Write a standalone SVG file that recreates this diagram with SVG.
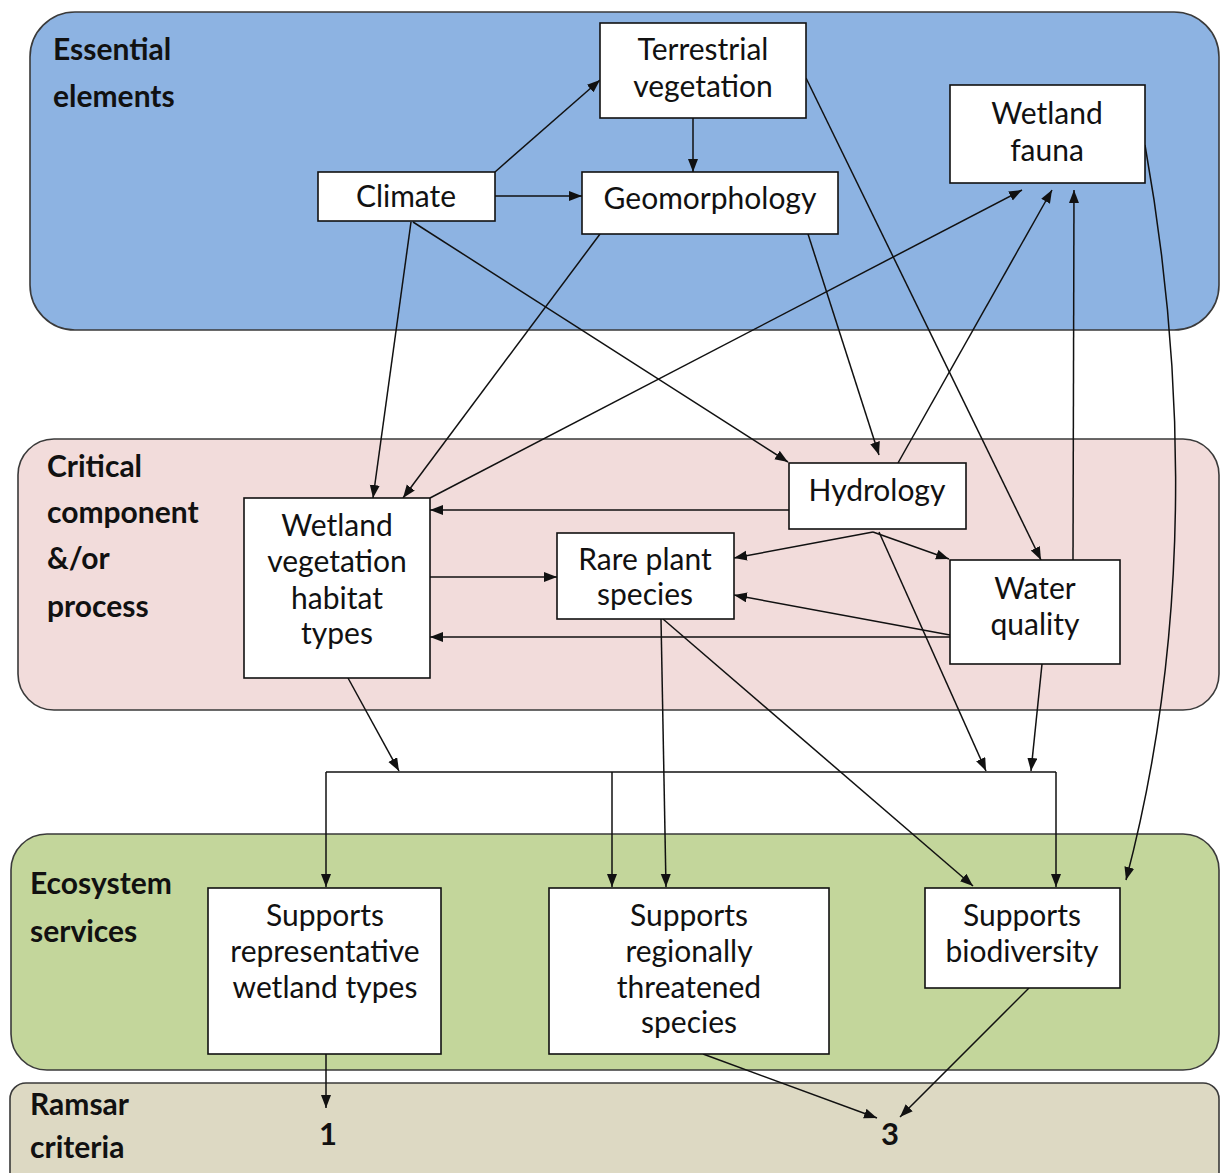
<svg xmlns="http://www.w3.org/2000/svg" width="1221" height="1173" viewBox="0 0 1221 1173">
<style>
.band{stroke:#3a3a3a;stroke-width:1.6}
.box{fill:#fff;stroke:#111;stroke-width:1.6}
.lbl{font-family:Lato,"Open Sans","Liberation Sans",sans-serif;font-weight:bold;font-size:30px;fill:#111}
.t{font-family:Lato,"Open Sans","Liberation Sans",sans-serif;font-size:30px;fill:#111;text-anchor:middle}
.num{font-family:Lato,"Liberation Sans",sans-serif;font-weight:bold;font-size:31px;fill:#111;text-anchor:middle}
.c{fill:none;stroke:#111;stroke-width:1.5}
.a{marker-end:url(#ah)}
</style>
<defs>
<marker id="ah" markerUnits="userSpaceOnUse" markerWidth="14" markerHeight="11" refX="13" refY="5" orient="auto">
<path d="M0,0 L13,5 L0,10 z" fill="#111"/>
</marker>
</defs>
<rect width="1221" height="1173" fill="#fff"/>
<g id="band-essential">
<rect class="band" x="30" y="12" width="1189" height="318" rx="45" ry="45" fill="#8db3e2"/>
<text class="lbl" x="53" y="60">Essential</text>
<text class="lbl" x="53" y="107">elements</text>
</g>
<g id="band-critical">
<rect class="band" x="18" y="439" width="1201" height="271" rx="36" ry="36" fill="#f2dcdb"/>
<text class="lbl" x="47" y="477">Critical</text>
<text class="lbl" x="47" y="523">component</text>
<text class="lbl" x="47" y="569">&amp;/or</text>
<text class="lbl" x="47" y="617">process</text>
</g>
<g id="band-ecosystem">
<rect class="band" x="11" y="834" width="1208" height="236" rx="36" ry="36" fill="#c3d69b"/>
<text class="lbl" x="30" y="894">Ecosystem</text>
<text class="lbl" x="30" y="942">services</text>
</g>
<g id="band-ramsar">
<rect class="band" x="10" y="1083" width="1209" height="110" rx="16" ry="16" fill="#ddd9c3"/>
<text class="lbl" x="30" y="1115">Ramsar</text>
<text class="lbl" x="30" y="1158">criteria</text>
</g>
<g id="connectors">
<path class="c a" d="M495,172 L600,80"/>
<path class="c a" d="M495,196 L582,196"/>
<path class="c a" d="M693,118 L693,172"/>
<path class="c a" d="M411,222 L373,498"/>
<path class="c a" d="M413,222 L788,462"/>
<path class="c a" d="M600,234 L403,498"/>
<path class="c a" d="M808,234 L879,455"/>
<path class="c a" d="M806,78 L1041,560"/>
<path class="c a" d="M430,498 L1022,190"/>
<path class="c a" d="M898,463 L1052,190"/>
<path class="c a" d="M1073,560 L1074,190"/>
<path class="c a" d="M1145,145 C1178,330 1200,600 1126,880"/>
<path class="c a" d="M789,510 L430,510"/>
<path class="c a" d="M430,577 L557,577"/>
<path class="c a" d="M950,637 L430,637"/>
<path class="c a" d="M873,532 L734,558"/>
<path class="c a" d="M873,532 L949,559"/>
<path class="c a" d="M950,635 L734,595"/>
<path class="c a" d="M879,532 L986,771"/>
<path class="c a" d="M1042,664 L1031,771"/>
<path class="c a" d="M348,678 L399,771"/>
<path class="c" d="M326,772 L1056,772"/>
<path class="c a" d="M326,772 L326,887"/>
<path class="c a" d="M612,772 L612,887"/>
<path class="c a" d="M1056,772 L1056,887"/>
<path class="c a" d="M661,619 L666,887"/>
<path class="c a" d="M663,619 L973,886"/>
<path class="c a" d="M326,1054 L326,1108"/>
<path class="c a" d="M703,1054 L877,1118"/>
<path class="c a" d="M1029,988 L900,1117"/>
</g>
<g id="climate">
<rect class="box" x="318" y="172" width="177" height="49"/>
<text class="t" x="406" y="207">Climate</text>
</g>
<g id="terrestrial-vegetation">
<rect class="box" x="600" y="23" width="206" height="95"/>
<text class="t" x="703" y="60">Terrestrial</text>
<text class="t" x="703" y="97">vegetation</text>
</g>
<g id="geomorphology">
<rect class="box" x="582" y="172" width="256" height="62"/>
<text class="t" x="710" y="209">Geomorphology</text>
</g>
<g id="wetland-fauna">
<rect class="box" x="950" y="85" width="195" height="98"/>
<text class="t" x="1047" y="124">Wetland</text>
<text class="t" x="1047" y="161">fauna</text>
</g>
<g id="wetland-vegetation">
<rect class="box" x="244" y="498" width="186" height="180"/>
<text class="t" x="337" y="536">Wetland</text>
<text class="t" x="337" y="572">vegetation</text>
<text class="t" x="337" y="609">habitat</text>
<text class="t" x="337" y="644">types</text>
</g>
<g id="hydrology">
<rect class="box" x="789" y="463" width="177" height="66"/>
<text class="t" x="877" y="501">Hydrology</text>
</g>
<g id="rare-plant-species">
<rect class="box" x="557" y="533" width="177" height="86"/>
<text class="t" x="645" y="570">Rare plant</text>
<text class="t" x="645" y="605">species</text>
</g>
<g id="water-quality">
<rect class="box" x="950" y="560" width="170" height="104"/>
<text class="t" x="1035" y="599">Water</text>
<text class="t" x="1035" y="635">quality</text>
</g>
<g id="supports-representative">
<rect class="box" x="208" y="888" width="233" height="166"/>
<text class="t" x="325" y="926">Supports</text>
<text class="t" x="325" y="962">representative</text>
<text class="t" x="325" y="998">wetland types</text>
</g>
<g id="supports-regionally">
<rect class="box" x="549" y="888" width="280" height="166"/>
<text class="t" x="689" y="926">Supports</text>
<text class="t" x="689" y="962">regionally</text>
<text class="t" x="689" y="998">threatened</text>
<text class="t" x="689" y="1033">species</text>
</g>
<g id="supports-biodiversity">
<rect class="box" x="925" y="888" width="195" height="100"/>
<text class="t" x="1022" y="926">Supports</text>
<text class="t" x="1022" y="962">biodiversity</text>
</g>
<g id="criterion-1"><text class="num" x="328" y="1145">1</text></g>
<g id="criterion-3"><text class="num" x="890" y="1145">3</text></g>
</svg>
